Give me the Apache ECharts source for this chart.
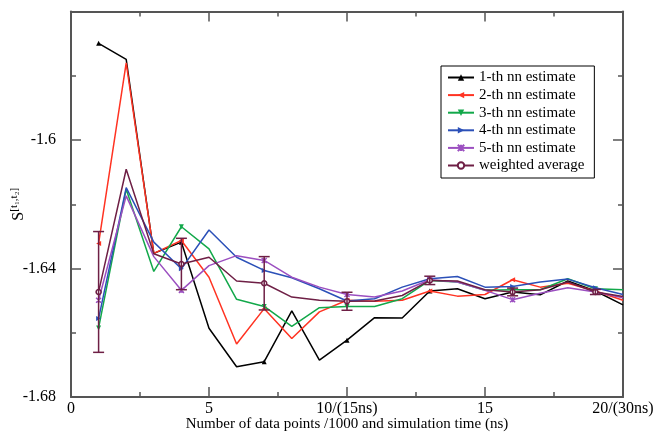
<!DOCTYPE html>
<html><head><meta charset="utf-8">
<script src="https://cdn.jsdelivr.net/npm/echarts@6/dist/echarts.min.js"></script>
<style>html,body{margin:0;padding:0;background:#fff}#c{width:653px;height:434px}</style>
</head><body><div id="c"></div>
<script>
const xs = [1,2,3,4,5,6,7,8,9,10,11,12,13,14,15,16,17,18,19,20];
const nn1 = [-1.5699,-1.5749,-1.6353,-1.6318,-1.6586,-1.6706,-1.6690,-1.6532,-1.6685,-1.6623,-1.6553,-1.6554,-1.6470,-1.6463,-1.6494,-1.6473,-1.6482,-1.6439,-1.6470,-1.6513];
const nn2 = [-1.6322,-1.5760,-1.6353,-1.6313,-1.6427,-1.6635,-1.6525,-1.6618,-1.6535,-1.6499,-1.6502,-1.6499,-1.6470,-1.6486,-1.6481,-1.6435,-1.6458,-1.6446,-1.6470,-1.6499];
const nn3 = [-1.6585,-1.6153,-1.6409,-1.6270,-1.6339,-1.6496,-1.6518,-1.6580,-1.6522,-1.6518,-1.6518,-1.6494,-1.6437,-1.6442,-1.6468,-1.6466,-1.6466,-1.6432,-1.6463,-1.6466];
const nn4 = [-1.6556,-1.6148,-1.6318,-1.6401,-1.6280,-1.6365,-1.6406,-1.6429,-1.6463,-1.6501,-1.6494,-1.6458,-1.6432,-1.6425,-1.6458,-1.6456,-1.6442,-1.6433,-1.6460,-1.6481];
const nn5 = [-1.6499,-1.6174,-1.6363,-1.6468,-1.6391,-1.6360,-1.6375,-1.6427,-1.6458,-1.6481,-1.6489,-1.6470,-1.6435,-1.6442,-1.6468,-1.6497,-1.6477,-1.6460,-1.6473,-1.6491];
const wavg = [-1.6473,-1.6091,-1.6354,-1.6386,-1.6365,-1.6439,-1.6446,-1.6489,-1.6499,-1.6502,-1.6501,-1.6484,-1.6437,-1.6439,-1.6466,-1.6473,-1.6466,-1.6442,-1.6473,-1.6487];
const errX = [1,4,7,10,13,16,19];
const errVal = [0.0188,0.0080,0.0083,0.0028,0.0013,0.0012,0.0008];
const names = ['1-th nn estimate','2-th nn estimate','3-th nn estimate','4-th nn estimate','5-th nn estimate','weighted average'];
const xTickLabels = {0:'0',5:'5',10:'10/(15ns)',15:'15',20:'20/(30ns)'};
const yTickLabels = ['-1.68','-1.64','-1.6'];

const colors = ['#000000','#ff3322','#12a84a','#2b50b8','#9b4fc0','#6e1f45'];
const syms = ['triangle','triangle','triangle','triangle','path://M0,0L10,10M10,0L0,10M5,0L5,10','circle'];
const rots = [0,90,180,-90,0,0];
const allData = [nn1,nn2,nn3,nn4,nn5,wavg];
const serif = 'Liberation Serif, Times New Roman, serif';

const series = allData.map((arr,i)=>({
  name: names[i], type:'line', xAxisIndex:0, yAxisIndex:0,
  data: arr.map((v,j)=>({value:[xs[j],v], symbol: (j%3===0)? syms[i] : 'none'})),
  symbol: syms[i], symbolRotate: rots[i], symbolSize: 5,
  lineStyle:{color:colors[i], width:1.5},
  itemStyle:{color: i===5 ? '#fff' : colors[i], borderColor: colors[i], borderWidth: (i===4||i===5)?1.5:0},
  emphasis:{disabled:true}, animation:false, z: 2+i
}));

series.push({
  type:'custom', name:'err', xAxisIndex:0, yAxisIndex:0,
  data: errX.map((x,k)=>[x, wavg[xs.indexOf(x)], errVal[k]]),
  renderItem:(params, api)=>{
    const x = api.value(0), y = api.value(1), e = api.value(2);
    const top = api.coord([x, y+e]), bot = api.coord([x, y-e]);
    const w = 5.5;
    const st = {stroke: colors[5], lineWidth:1.5};
    return {type:'group', children:[
      {type:'line', shape:{x1:top[0],y1:top[1],x2:bot[0],y2:bot[1]}, style:st},
      {type:'line', shape:{x1:top[0]-w,y1:top[1],x2:top[0]+w,y2:top[1]}, style:st},
      {type:'line', shape:{x1:bot[0]-w,y1:bot[1],x2:bot[0]+w,y2:bot[1]}, style:st}
    ]};
  },
  z: 10, animation:false, silent:true
});

const axisCommon = {
  axisLine:{show:true, onZero:false, lineStyle:{color:'#555', width:2}},
  axisTick:{show:true, inside:true, length:10, lineStyle:{color:'#555', width:1.5}},
  minorTick:{show:true, splitNumber:2, length:5, lineStyle:{color:'#555', width:1.5}},
  splitLine:{show:false}
};

const option = {
  backgroundColor:'#fff',
  animation:false,
  grid:{left:71, right:30, top:11.5, bottom:37, containLabel:false, outerBoundsMode:'none'},
  legend:{
    orient:'vertical', left:441, top:66, width:154,
    data: names,
    borderColor:'#000', borderWidth:1, padding:[4,10,5,6],
    itemWidth:26, itemHeight:8, itemGap:2.6,
    textStyle:{fontFamily:serif, fontSize:15, lineHeight:15, color:'#000'},
    backgroundColor:'#fff'
  },
  xAxis:[
    Object.assign({type:'value', min:0, max:20, interval:5, position:'bottom',
      name:'Number of data points /1000 and simulation time (ns)', nameLocation:'middle', nameGap:20, nameMoveOverlap:false,
      nameTextStyle:{fontFamily:serif, fontSize:15, color:'#000'},
      axisLabel:{fontFamily:serif, fontSize:16, color:'#000', margin:4, formatter:v=>xTickLabels[v]!==undefined?xTickLabels[v]:''}
    }, axisCommon),
    Object.assign({type:'value', min:0, max:20, interval:5, position:'top', axisLabel:{show:false}}, axisCommon)
  ],
  yAxis:[
    Object.assign({type:'value', min:-1.68, max:-1.56, interval:0.04, position:'left',
      name:'{s|S}{p|[t₁,t₂]}', nameLocation:'middle', nameGap:43, nameRotate:90, nameMoveOverlap:false,
      nameTextStyle:{rich:{s:{fontFamily:serif, fontSize:16, color:'#000'}, p:{fontFamily:serif, fontSize:11, color:'#000', verticalAlign:'top', padding:[0,0,8,0]}}},
      axisLabel:{fontFamily:serif, fontSize:16, color:'#000', margin:15, formatter:(v,idx)=>yTickLabels[idx]!==undefined?yTickLabels[idx]:''}
    }, axisCommon),
    Object.assign({type:'value', min:-1.68, max:-1.56, interval:0.04, position:'right', axisLabel:{show:false}}, axisCommon)
  ],
  series: series
};
const chart = echarts.init(document.getElementById('c'), null, {renderer:'canvas'});
chart.setOption(option);
</script></body></html>
